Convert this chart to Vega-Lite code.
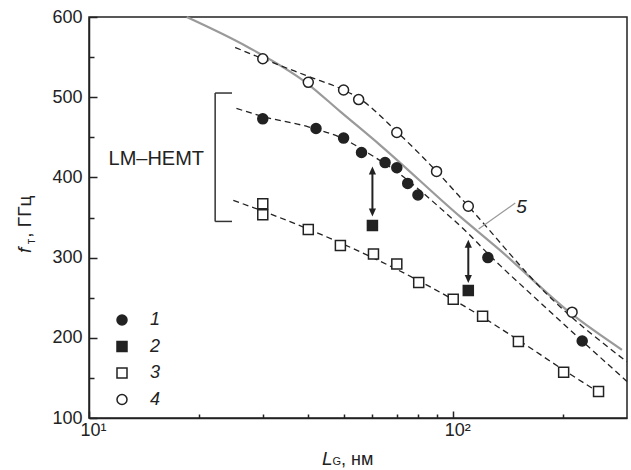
{
  "$schema": "https://vega.github.io/schema/vega-lite/v6.json",
  "width": 538,
  "height": 401,
  "autosize": {"type": "none"},
  "padding": {"left": 89, "top": 17, "right": 4, "bottom": 52},
  "config": {
    "font": "Liberation Sans",
    "view": {"stroke": "#222", "strokeWidth": 1.5},
    "axis": {"domainColor": "#222", "domainWidth": 1.5, "tickColor": "#222", "tickWidth": 1.5, "labelColor": "#222", "labelFontSize": 18, "labelFont": "Liberation Sans", "grid": false, "title": null, "labelFlush": false},
    "legend": {"symbolStrokeColor": "#222", "symbolStrokeWidth": 1.5}
  },
  "datasets": {
    "pts": [
      {"series": "1", "L": 30, "f": 473}, {"series": "1", "L": 42, "f": 461}, {"series": "1", "L": 50, "f": 449},
      {"series": "1", "L": 56, "f": 431}, {"series": "1", "L": 65, "f": 418.5}, {"series": "1", "L": 70, "f": 412},
      {"series": "1", "L": 75, "f": 392.5}, {"series": "1", "L": 80, "f": 378}, {"series": "1", "L": 124.5, "f": 300},
      {"series": "1", "L": 226, "f": 196},
      {"series": "2", "L": 60, "f": 340}, {"series": "2", "L": 110, "f": 259},
      {"series": "3", "L": 30, "f": 367}, {"series": "3", "L": 30, "f": 353.5}, {"series": "3", "L": 40, "f": 335},
      {"series": "3", "L": 49, "f": 315}, {"series": "3", "L": 60.4, "f": 304.5}, {"series": "3", "L": 70, "f": 292},
      {"series": "3", "L": 80.4, "f": 269}, {"series": "3", "L": 100, "f": 248}, {"series": "3", "L": 120.4, "f": 227},
      {"series": "3", "L": 151, "f": 195.5}, {"series": "3", "L": 201, "f": 157}, {"series": "3", "L": 250.6, "f": 133},
      {"series": "4", "L": 30, "f": 548}, {"series": "4", "L": 40, "f": 518.5}, {"series": "4", "L": 50, "f": 509},
      {"series": "4", "L": 55, "f": 497}, {"series": "4", "L": 70, "f": 456}, {"series": "4", "L": 90, "f": 407.5},
      {"series": "4", "L": 110, "f": 364}, {"series": "4", "L": 212, "f": 232}
    ],
    "fits": [
      {"curve": "fit1", "L": 25.4, "f": 486}, {"curve": "fit1", "L": 30, "f": 476}, {"curve": "fit1", "L": 40, "f": 463},
      {"curve": "fit1", "L": 50, "f": 448}, {"curve": "fit1", "L": 60, "f": 427}, {"curve": "fit1", "L": 70, "f": 407},
      {"curve": "fit1", "L": 80, "f": 386}, {"curve": "fit1", "L": 92, "f": 362}, {"curve": "fit1", "L": 110, "f": 330},
      {"curve": "fit1", "L": 124.5, "f": 305}, {"curve": "fit1", "L": 170, "f": 247.5}, {"curve": "fit1", "L": 226, "f": 196},
      {"curve": "fit1", "L": 300, "f": 145.6},
      {"curve": "fit3", "L": 24.9, "f": 371.3}, {"curve": "fit3", "L": 30, "f": 358}, {"curve": "fit3", "L": 40, "f": 335.5},
      {"curve": "fit3", "L": 50, "f": 316.6}, {"curve": "fit3", "L": 60, "f": 300}, {"curve": "fit3", "L": 70, "f": 285.3},
      {"curve": "fit3", "L": 80, "f": 271.7}, {"curve": "fit3", "L": 100, "f": 247.5}, {"curve": "fit3", "L": 120, "f": 226.1},
      {"curve": "fit3", "L": 150, "f": 198}, {"curve": "fit3", "L": 200, "f": 160.5}, {"curve": "fit3", "L": 250, "f": 132.4},
      {"curve": "fit4", "L": 25.2, "f": 562}, {"curve": "fit4", "L": 30, "f": 548}, {"curve": "fit4", "L": 40, "f": 526},
      {"curve": "fit4", "L": 50, "f": 509}, {"curve": "fit4", "L": 55, "f": 499}, {"curve": "fit4", "L": 70, "f": 457},
      {"curve": "fit4", "L": 90, "f": 407.5}, {"curve": "fit4", "L": 110, "f": 364}, {"curve": "fit4", "L": 185, "f": 250},
      {"curve": "fit4", "L": 300, "f": 170}
    ],
    "theory": [
      {"L": 18.55, "f": 600}, {"L": 27.1, "f": 563.3}, {"L": 39.6, "f": 517.7}, {"L": 48.9, "f": 482.3},
      {"L": 63.1, "f": 440}, {"L": 104.5, "f": 351}, {"L": 134.6, "f": 309}, {"L": 209.6, "f": 231}, {"L": 290.6, "f": 185}
    ],
    "bracket": [
      {"x1": 22.2, "x2": 22.2, "y1": 505.2, "y2": 345.1},
      {"x1": 22.2, "x2": 24.7, "y1": 505.2, "y2": 505.2},
      {"x1": 22.2, "x2": 24.7, "y1": 345.1, "y2": 345.1}
    ],
    "leader": [{"x1": 117.4, "x2": 148, "y1": 335.6, "y2": 368}],
    "shafts": [{"L": 60, "y1": 409, "y2": 356}, {"L": 110, "y1": 318, "y2": 272}],
    "headsUp": [{"L": 60, "f": 413.7}, {"L": 110, "f": 322.3}],
    "headsDown": [{"L": 60, "f": 351.4}, {"L": 110, "f": 268.3}]
  },
  "resolve": {"axis": {"x": "independent", "y": "independent"}},
  "layer": [
    {
      "data": {"name": "theory"},
      "mark": {"type": "line", "color": "#9a9a9a", "strokeWidth": 2.2, "interpolate": "monotone"},
      "encoding": {
        "x": {"field": "L", "type": "quantitative", "scale": {"type": "log", "domain": [10, 300], "nice": false},
          "axis": {"orient": "bottom", "values": [20, 30, 40, 50, 60, 70, 80, 90, 200], "labels": false, "domain": false, "tickSize": -4}},
        "y": {"field": "f", "type": "quantitative", "scale": {"domain": [100, 600], "nice": false, "zero": false},
          "axis": {"orient": "left", "values": [150, 250, 350, 450, 550], "labels": false, "domain": false, "tickSize": -5}}
      }
    },
    {
      "layer": [
        {
          "data": {"name": "fits"},
          "mark": {"type": "line", "color": "#222", "strokeWidth": 1.3, "strokeDash": [6, 4], "interpolate": "monotone"},
          "encoding": {
            "x": {"field": "L", "type": "quantitative",
              "axis": {"orient": "bottom", "values": [10, 100], "labelExpr": "datum.value == 10 ? '10¹' : '10²'", "tickSize": -7, "labelPadding": 10, "labelOffset": 4, "labelFlush": false}},
            "y": {"field": "f", "type": "quantitative",
              "axis": {"orient": "left", "values": [100, 200, 300, 400, 500, 600], "tickSize": -8, "labelPadding": 15}},
            "detail": {"field": "curve"}
          }
        },
        {
          "data": {"name": "bracket"},
          "mark": {"type": "rule", "color": "#333", "strokeWidth": 1.5},
          "encoding": {
            "x": {"field": "x1", "type": "quantitative"}, "x2": {"field": "x2"},
            "y": {"field": "y1", "type": "quantitative"}, "y2": {"field": "y2"}
          }
        },
        {
          "data": {"name": "leader"},
          "mark": {"type": "rule", "color": "#9a9a9a", "strokeWidth": 1.3},
          "encoding": {
            "x": {"field": "x1", "type": "quantitative"}, "x2": {"field": "x2"},
            "y": {"field": "y1", "type": "quantitative"}, "y2": {"field": "y2"}
          }
        },
        {
          "data": {"name": "shafts"},
          "mark": {"type": "rule", "color": "#222", "strokeWidth": 2},
          "encoding": {
            "x": {"field": "L", "type": "quantitative"},
            "y": {"field": "y1", "type": "quantitative"}, "y2": {"field": "y2"}
          }
        },
        {
          "data": {"name": "headsUp"},
          "mark": {"type": "point", "filled": true, "color": "#222", "size": 256, "opacity": 1, "shape": "M0,0L0.45,1L-0.45,1Z"},
          "encoding": {
            "x": {"field": "L", "type": "quantitative"},
            "y": {"field": "f", "type": "quantitative"}
          }
        },
        {
          "data": {"name": "headsDown"},
          "mark": {"type": "point", "filled": true, "color": "#222", "size": 256, "opacity": 1, "shape": "M0,0L0.45,-1L-0.45,-1Z"},
          "encoding": {
            "x": {"field": "L", "type": "quantitative"},
            "y": {"field": "f", "type": "quantitative"}
          }
        },
        {
          "data": {"name": "pts"},
          "mark": {"type": "point", "strokeWidth": 1.5, "size": 100, "opacity": 1},
          "encoding": {
            "x": {"field": "L", "type": "quantitative"},
            "y": {"field": "f", "type": "quantitative"},
            "shape": {"field": "series", "type": "nominal",
              "scale": {"domain": ["1", "2", "3", "4"], "range": ["circle", "square", "square", "circle"]},
              "legend": {"title": null, "orient": "none", "legendX": 24, "legendY": 294, "symbolSize": 100, "labelFontSize": 18, "labelFontStyle": "italic", "labelColor": "#222", "labelOffset": 19, "rowPadding": 8.5, "padding": 0}},
            "fill": {"field": "series", "type": "nominal",
              "scale": {"domain": ["1", "2", "3", "4"], "range": ["#222", "#222", "white", "white"]},
              "legend": {"title": null, "orient": "none", "legendX": 24, "legendY": 294, "symbolSize": 100, "labelFontSize": 18, "labelFontStyle": "italic", "labelColor": "#222", "labelOffset": 19, "rowPadding": 8.5, "padding": 0}},
            "stroke": {"field": "series", "type": "nominal",
              "scale": {"domain": ["1", "2", "3", "4"], "range": ["#222", "#222", "#222", "#222"]},
              "legend": {"title": null, "orient": "none", "legendX": 24, "legendY": 294, "symbolSize": 100, "labelFontSize": 18, "labelFontStyle": "italic", "labelColor": "#222", "labelOffset": 19, "rowPadding": 8.5, "padding": 0}}
          }
        },
        {
          "data": {"values": [{"L": 20.7, "f": 415, "t": "LM–HEMT"}]},
          "mark": {"type": "text", "align": "right", "baseline": "alphabetic", "fontSize": 20, "color": "#222"},
          "encoding": {"x": {"field": "L", "type": "quantitative"}, "y": {"field": "f", "type": "quantitative"}, "text": {"field": "t"}}
        },
        {
          "data": {"values": [{"L": 148.9, "f": 355.6, "t": "5"}]},
          "mark": {"type": "text", "align": "left", "baseline": "alphabetic", "fontSize": 19, "fontStyle": "italic", "color": "#222"},
          "encoding": {"x": {"field": "L", "type": "quantitative"}, "y": {"field": "f", "type": "quantitative"}, "text": {"field": "t"}}
        },
        {
          "data": {"values": [{"L": 43.6, "f": 42, "t": "L"}]},
          "mark": {"type": "text", "align": "left", "baseline": "alphabetic", "fontSize": 19, "fontStyle": "italic", "color": "#222"},
          "encoding": {"x": {"field": "L", "type": "quantitative"}, "y": {"field": "f", "type": "quantitative"}, "text": {"field": "t"}}
        },
        {
          "data": {"values": [{"L": 46.6, "f": 42, "t": "G"}]},
          "mark": {"type": "text", "align": "left", "baseline": "alphabetic", "fontSize": 11, "color": "#222"},
          "encoding": {"x": {"field": "L", "type": "quantitative"}, "y": {"field": "f", "type": "quantitative"}, "text": {"field": "t"}}
        },
        {
          "data": {"values": [{"L": 49.2, "f": 42, "t": ", нм"}]},
          "mark": {"type": "text", "align": "left", "baseline": "alphabetic", "fontSize": 18, "color": "#222"},
          "encoding": {"x": {"field": "L", "type": "quantitative"}, "y": {"field": "f", "type": "quantitative"}, "text": {"field": "t"}}
        },
        {
          "data": {"values": [{"L": 6.93, "f": 305.7, "t": "f"}]},
          "mark": {"type": "text", "align": "left", "baseline": "alphabetic", "angle": 270, "fontSize": 19, "fontStyle": "italic", "color": "#222"},
          "encoding": {"x": {"field": "L", "type": "quantitative"}, "y": {"field": "f", "type": "quantitative"}, "text": {"field": "t"}}
        },
        {
          "data": {"values": [{"L": 7.12, "f": 316.5, "t": "т"}]},
          "mark": {"type": "text", "align": "left", "baseline": "alphabetic", "angle": 270, "fontSize": 12, "color": "#222"},
          "encoding": {"x": {"field": "L", "type": "quantitative"}, "y": {"field": "f", "type": "quantitative"}, "text": {"field": "t"}}
        },
        {
          "data": {"values": [{"L": 6.93, "f": 324.8, "t": ", ГГц"}]},
          "mark": {"type": "text", "align": "left", "baseline": "alphabetic", "angle": 270, "fontSize": 19, "color": "#222"},
          "encoding": {"x": {"field": "L", "type": "quantitative"}, "y": {"field": "f", "type": "quantitative"}, "text": {"field": "t"}}
        }
      ]
    }
  ]
}
